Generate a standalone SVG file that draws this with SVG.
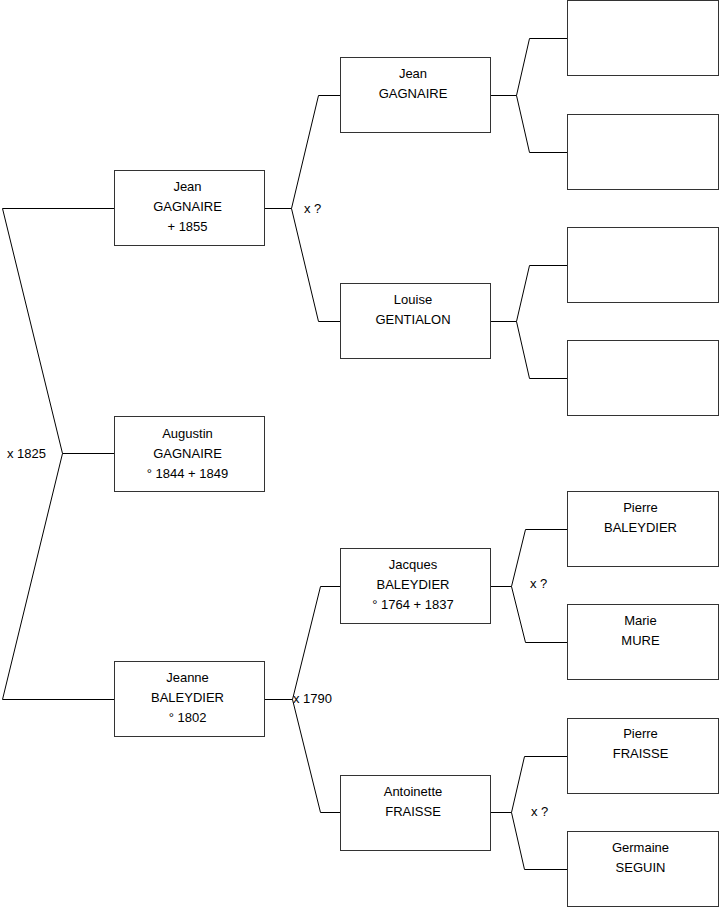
<svg xmlns="http://www.w3.org/2000/svg" width="719" height="908" viewBox="0 0 719 908">
<style>
.box{fill:#fff;stroke:#333;stroke-width:1}
.ln{fill:none;stroke:#000;stroke-width:1}
text{font-family:"Liberation Sans",Arial,sans-serif;font-size:13px;fill:#000}
.c{text-anchor:middle}
</style>
<rect width="719" height="908" fill="#fff"/>
<g id="connectors">
<polyline class="ln" points="114,208.5 2.5,208.5 62.5,453.5 2.5,699.5 114,699.5"/>
<line class="ln" x1="62.5" y1="453.5" x2="114" y2="453.5"/>
<polyline class="ln" points="265,208.5 291.5,208.5"/>
<polyline class="ln" points="340,95.5 318.5,95.5 291.5,208.5 318.5,321.5 340,321.5"/>
<polyline class="ln" points="265,699.5 292.5,699.5"/>
<polyline class="ln" points="340,586.5 320.5,586.5 292.5,699.5 320.5,812.5 340,812.5"/>
<polyline class="ln" points="491,95.5 516.5,95.5"/>
<polyline class="ln" points="567,38.5 529.5,38.5 516.5,95.5 529.5,152.5 567,152.5"/>
<polyline class="ln" points="491,321.5 516.5,321.5"/>
<polyline class="ln" points="567,265.5 529.5,265.5 516.5,321.5 529.5,378.5 567,378.5"/>
<polyline class="ln" points="491,586.5 511.5,586.5"/>
<polyline class="ln" points="567,529.5 525.5,529.5 511.5,586.5 525.5,642.5 567,642.5"/>
<polyline class="ln" points="491,812.5 511.5,812.5"/>
<polyline class="ln" points="567,756.5 524.5,756.5 511.5,812.5 524.5,869.5 567,869.5"/>
<text x="7" y="458">x 1825</text>
<text x="304" y="213">x ?</text>
<text x="293" y="703">x 1790</text>
<text x="530" y="588">x ?</text>
<text x="531" y="816">x ?</text>
</g>
<g id="n_jean1">
<rect class="box" x="114.5" y="170.5" width="150" height="75"/>
<text class="c" x="187.5" y="191">Jean</text>
<text class="c" x="187.5" y="211">GAGNAIRE</text>
<text class="c" x="187.5" y="231">+ 1855</text>
</g>
<g id="n_augustin">
<rect class="box" x="114.5" y="416.5" width="150" height="75"/>
<text class="c" x="187.5" y="438">Augustin</text>
<text class="c" x="187.5" y="458">GAGNAIRE</text>
<text class="c" x="187.5" y="478">° 1844 + 1849</text>
</g>
<g id="n_jeanne">
<rect class="box" x="114.5" y="661.5" width="150" height="75"/>
<text class="c" x="187.5" y="682">Jeanne</text>
<text class="c" x="187.5" y="702">BALEYDIER</text>
<text class="c" x="187.5" y="722">° 1802</text>
</g>
<g id="n_jean2">
<rect class="box" x="340.5" y="57.5" width="150" height="75"/>
<text class="c" x="413" y="78">Jean</text>
<text class="c" x="413" y="98">GAGNAIRE</text>
</g>
<g id="n_louise">
<rect class="box" x="340.5" y="283.5" width="150" height="75"/>
<text class="c" x="413" y="304">Louise</text>
<text class="c" x="413" y="324">GENTIALON</text>
</g>
<g id="n_jacques">
<rect class="box" x="340.5" y="548.5" width="150" height="75"/>
<text class="c" x="413" y="569">Jacques</text>
<text class="c" x="413" y="589">BALEYDIER</text>
<text class="c" x="413" y="609">° 1764 + 1837</text>
</g>
<g id="n_antoinette">
<rect class="box" x="340.5" y="775.5" width="150" height="75"/>
<text class="c" x="413" y="796">Antoinette</text>
<text class="c" x="413" y="816">FRAISSE</text>
</g>
<g id="n_e1"><rect class="box" x="567.5" y="0.5" width="151" height="75"/></g>
<g id="n_e2"><rect class="box" x="567.5" y="114.5" width="151" height="75"/></g>
<g id="n_e3"><rect class="box" x="567.5" y="227.5" width="151" height="75"/></g>
<g id="n_e4"><rect class="box" x="567.5" y="340.5" width="151" height="75"/></g>
<g id="n_pierre_b">
<rect class="box" x="567.5" y="491.5" width="151" height="75"/>
<text class="c" x="640.5" y="512">Pierre</text>
<text class="c" x="640.5" y="532">BALEYDIER</text>
</g>
<g id="n_marie">
<rect class="box" x="567.5" y="604.5" width="151" height="75"/>
<text class="c" x="640.5" y="625">Marie</text>
<text class="c" x="640.5" y="645">MURE</text>
</g>
<g id="n_pierre_f">
<rect class="box" x="567.5" y="718.5" width="151" height="75"/>
<text class="c" x="640.5" y="738">Pierre</text>
<text class="c" x="640.5" y="758">FRAISSE</text>
</g>
<g id="n_germaine">
<rect class="box" x="567.5" y="831.5" width="151" height="75"/>
<text class="c" x="640.5" y="852">Germaine</text>
<text class="c" x="640.5" y="872">SEGUIN</text>
</g>
</svg>
